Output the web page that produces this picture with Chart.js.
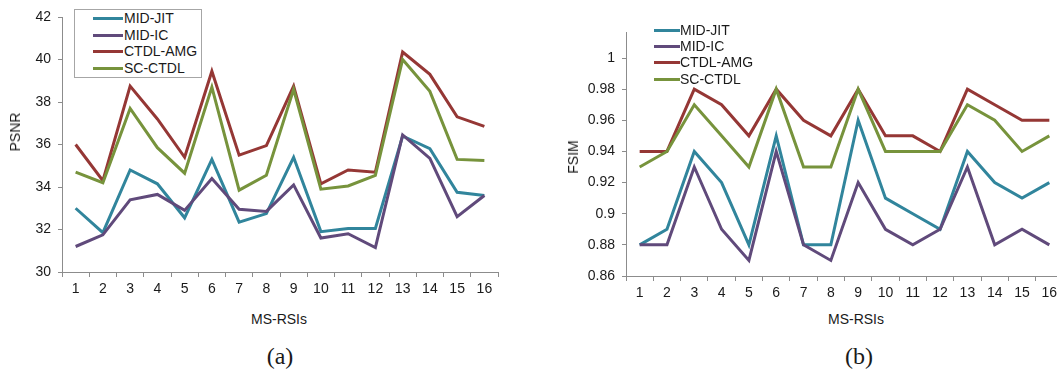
<!DOCTYPE html>
<html>
<head>
<meta charset="utf-8">
<script src="https://cdn.jsdelivr.net/npm/chart.js@4/dist/chart.umd.min.js"></script>
<style>
    html, body { margin: 0; padding: 0; background: #fff; overflow: hidden; }
    body { width: 1057px; height: 373px; position: relative; font-family: Arial, "Liberation Sans", sans-serif; color: #1a1a1a; }
    canvas { position: absolute; top: 0; }
    .txt { position: absolute; font-size: 14px; white-space: nowrap; line-height: 1; }
    .ytitle { transform: translate(-50%, -50%) rotate(-90deg); }
    .xtitle { transform: translate(-50%, -50%); }
    .caption { position: absolute; font-family: "Liberation Serif", "Times New Roman", serif; font-size: 24px; transform: translate(-50%, -50%); line-height: 1; }
    .legend { position: absolute; font-size: 14px; }
    .legend.boxed { border: 1px solid #a6a6a6; background: #fff; }
    .legend .row { position: absolute; height: 14px; width: 130px; white-space: nowrap; }
    .legend .swatch { position: absolute; top: 6px; height: 3px; }
    .legend .label { position: absolute; top: 0; line-height: 14px; white-space: nowrap; }
</style>
</head>
<body>
<canvas id="psnrChart" width="502" height="300" style="left:0"></canvas>
<canvas id="fsimChart" width="540" height="304" style="left:526px"></canvas>

<div class="txt ytitle" style="left:15px; top:132px">PSNR</div>
<div class="txt ytitle" style="left:573px; top:157px">FSIM</div>
<div class="txt xtitle" style="left:279px; top:319px">MS-RSIs</div>
<div class="txt xtitle" style="left:856px; top:319px">MS-RSIs</div>
<div class="caption" style="left:280px; top:356px">(a)</div>
<div class="caption" style="left:859px; top:356px">(b)</div>

<div id="psnrLegend" class="legend boxed" style="left:74px; top:9px; width:126px; height:67px"></div>
<div id="fsimLegend" class="legend" style="left:654px; top:22px; width:140px; height:70px"></div>

<script>
// Test images on the x axis
const msRsis = ['1', '2', '3', '4', '5', '6', '7', '8', '9', '10', '11', '12', '13', '14', '15', '16'];

const methods = ['MID-JIT', 'MID-IC', 'CTDL-AMG', 'SC-CTDL'];
const methodColors = ['#31859c', '#604a7b', '#953735', '#77933c'];

// PSNR per image
const psnrMidJit   = [33.0, 31.85, 34.8, 34.15, 32.55, 35.3, 32.35, 32.75, 35.4, 31.9, 32.05, 32.05, 36.4, 35.8, 33.75, 33.6];
const psnrMidIc    = [31.2, 31.75, 33.4, 33.65, 32.9, 34.4, 32.95, 32.85, 34.1, 31.6, 31.8, 31.15, 36.45, 35.35, 32.6, 33.6];
const psnrCtdlAmg  = [36.0, 34.3, 38.75, 37.2, 35.4, 39.45, 35.5, 35.95, 38.75, 34.15, 34.8, 34.7, 40.35, 39.3, 37.3, 36.85];
const psnrScCtdl   = [34.7, 34.2, 37.7, 35.85, 34.65, 38.7, 33.85, 34.55, 38.6, 33.9, 34.05, 34.55, 40.0, 38.5, 35.3, 35.25];

// FSIM per image
const fsimMidJit   = [0.88, 0.89, 0.94, 0.92, 0.88, 0.95, 0.88, 0.88, 0.96, 0.91, 0.90, 0.89, 0.94, 0.92, 0.91, 0.92];
const fsimMidIc    = [0.88, 0.88, 0.93, 0.89, 0.87, 0.94, 0.88, 0.87, 0.92, 0.89, 0.88, 0.89, 0.93, 0.88, 0.89, 0.88];
const fsimCtdlAmg  = [0.94, 0.94, 0.98, 0.97, 0.95, 0.98, 0.96, 0.95, 0.98, 0.95, 0.95, 0.94, 0.98, 0.97, 0.96, 0.96];
const fsimScCtdl   = [0.93, 0.94, 0.97, 0.95, 0.93, 0.98, 0.93, 0.93, 0.98, 0.94, 0.94, 0.94, 0.97, 0.96, 0.94, 0.95];

const axisColor = '#8c8c8c';
const tickFont = { family: 'Arial, "Liberation Sans", sans-serif', size: 14 };

// Later series sit on top, like the spreadsheet original
const buildDatasets = (series) => series.map((values, i) => ({
    label: methods[i],
    data: values,
    borderColor: methodColors[i],
    backgroundColor: methodColors[i],
    borderWidth: 3,
    pointRadius: 0,
    pointHoverRadius: 0,
    tension: 0,
    order: series.length - i
}));

function makeChart(id, series, yOpts, yWidth, pad) {
    const ctx = document.getElementById(id).getContext('2d');
    return new Chart(ctx, {
        type: 'line',
        data: { labels: msRsis, datasets: buildDatasets(series) },
        options: {
            responsive: false,
            animation: false,
            events: [],
            layout: { padding: pad },
            plugins: { legend: { display: false }, tooltip: { enabled: false } },
            scales: {
                x: {
                    offset: true,
                    afterFit: (scale) => { scale.height = 28; },
                    grid: { offset: true, drawOnChartArea: false, drawTicks: true, tickLength: 5, color: axisColor },
                    border: { color: axisColor, width: 1 },
                    ticks: { color: '#1a1a1a', font: tickFont, padding: 4, maxRotation: 0, autoSkip: false }
                },
                y: Object.assign({
                    afterFit: (scale) => { scale.width = yWidth; },
                    grid: { drawOnChartArea: false, drawTicks: true, tickLength: 4, color: axisColor },
                    border: { color: axisColor, width: 1 }
                }, yOpts)
            }
        }
    });
}

makeChart('psnrChart', [psnrMidJit, psnrMidIc, psnrCtdlAmg, psnrScCtdl], {
    min: 30,
    max: 42,
    ticks: { stepSize: 2, color: '#1a1a1a', font: tickFont, padding: 7 }
}, 62, { top: 17, right: 4, left: 0, bottom: 0 });

makeChart('fsimChart', [fsimMidJit, fsimMidIc, fsimCtdlAmg, fsimScCtdl], {
    min: 0.86,
    max: 1.0167,
    ticks: {
        stepSize: 0.02,
        includeBounds: false,
        color: '#1a1a1a',
        font: tickFont,
        padding: 7,
        callback: (v) => String(+v.toFixed(2))
    }
}, 100, { top: 32, right: 3, left: 0, bottom: 0 });

// Legends built from the same method names and colours
function buildLegend(id, swatchLeft, swatchWidth, textLeft, rowTops) {
    const box = document.getElementById(id);
    methods.forEach((name, i) => {
        const row = document.createElement('div');
        row.className = 'row';
        row.style.top = rowTops[i] + 'px';
        row.style.left = '0px';
        row.innerHTML = `<div class="swatch" style="left:${swatchLeft}px; width:${swatchWidth}px; background:${methodColors[i]}"></div>` +
            `<div class="label" style="left:${textLeft}px">${name}</div>`;
        box.appendChild(row);
    });
}

buildLegend('psnrLegend', 18, 30, 49, [1, 18, 34, 51]);
buildLegend('fsimLegend', 0, 26, 26, [1, 17, 33, 50]);
</script>
</body>
</html>
